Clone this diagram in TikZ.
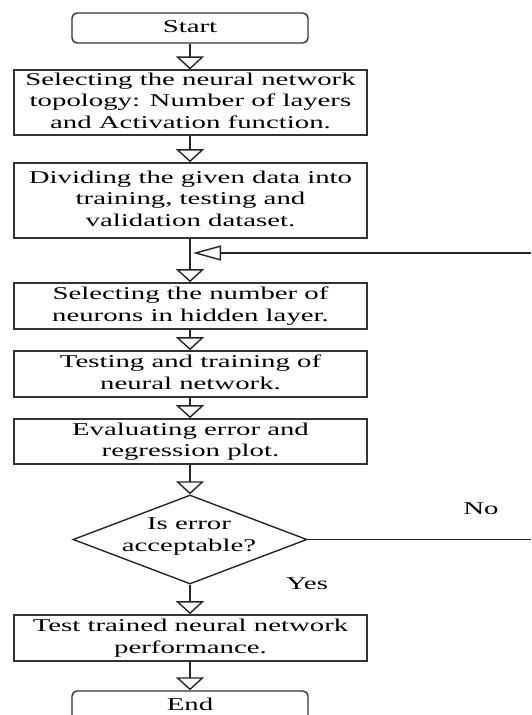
\documentclass[tikz,border=0pt]{standalone}
\usepackage{fontspec}
\usepackage{graphicx}
\setmainfont{Liberation Serif}
\usetikzlibrary{arrows.meta,shapes.geometric}
\newcommand{\sx}[1]{\scalebox{1.6}[1]{\begin{tabular}{@{}c@{}}#1\end{tabular}}}
\begin{document}
\begin{tikzpicture}[x=1pt,y=-1pt,
  font=\fontsize{18}{21.5}\selectfont,
  box/.style={draw=black!80, line width=1.6pt, minimum width=353pt, inner sep=0pt, text=black},
  term/.style={draw=black!80, line width=1.4pt, rounded corners=5pt, minimum width=236pt, minimum height=30pt, inner sep=0pt},
  dia/.style={draw=black!85, line width=1.4pt, diamond, aspect=2.63, minimum width=234pt, minimum height=89pt, inner sep=0pt},
  conn/.style={draw=black!85, line width=1.4pt},
  arr/.style={conn, -{Triangle[open, width=28pt, length=13pt, line width=1.4pt]}},
  fbarr/.style={conn, -{Triangle[open, width=15pt, length=28pt, line width=1.4pt]}},
  lbl/.style={inner sep=0pt}]
\useasboundingbox (0,0) rectangle (531,715);

\node[term] (start) at (190,28) {\sx{Start}};
\node[box, minimum height=61pt] (b1) at (190.5,102.5) {\sx{Selecting the neural network\\topology: Number of layers\\and Activation function.}};
\node[box, minimum height=75pt] (b2) at (190.5,200.5) {\sx{Dividing the given data into\\training, testing and\\validation dataset.}};
\node[box, minimum height=46pt] (b3) at (190.5,306) {\sx{Selecting the number of\\neurons in hidden layer.}};
\node[box, minimum height=46pt] (b4) at (190.5,374) {\sx{Testing and training of\\neural network.}};
\node[box, minimum height=45pt] (b5) at (190.5,441.5) {\sx{Evaluating error and\\regression plot.}};
\node[dia] (dec) at (190,539.5) {};
\node[lbl] (dect) at (189,536) {\sx{Is error\\acceptable?}};
\node[box, minimum height=46pt] (b6) at (190.5,638) {\sx{Test trained neural network\\performance.}};
\node[term] (end) at (190,706) {\sx{End}};

\node[lbl] (yes) at (307,585) {\sx{Yes}};
\node[lbl] (no) at (481,510) {\sx{No}};

\coordinate (fbR) at (531,253);
\coordinate (fbJ) at (193,253);
\coordinate (noR) at (531,539.5);

\draw[arr] (start.south -| 190,0) -- (b1.north -| 190,0);
\draw[arr] (b1.south -| 190,0) -- (b2.north -| 190,0);
\draw[arr] (b2.south -| 190,0) -- (b3.north -| 190,0);
\draw[arr] (b3.south -| 190,0) -- (b4.north -| 190,0);
\draw[arr] (b4.south -| 190,0) -- (b5.north -| 190,0);
\draw[arr] (b5.south -| 190,0) -- (dec.north);
\draw[arr] (dec.south) -- (b6.north -| 190,0);
\draw[arr] (b6.south -| 190,0) -- (end.north);
\draw[fbarr] (fbR) -- (fbJ);
\draw[conn] (dec.east) -- (noR);
\end{tikzpicture}
\end{document}
